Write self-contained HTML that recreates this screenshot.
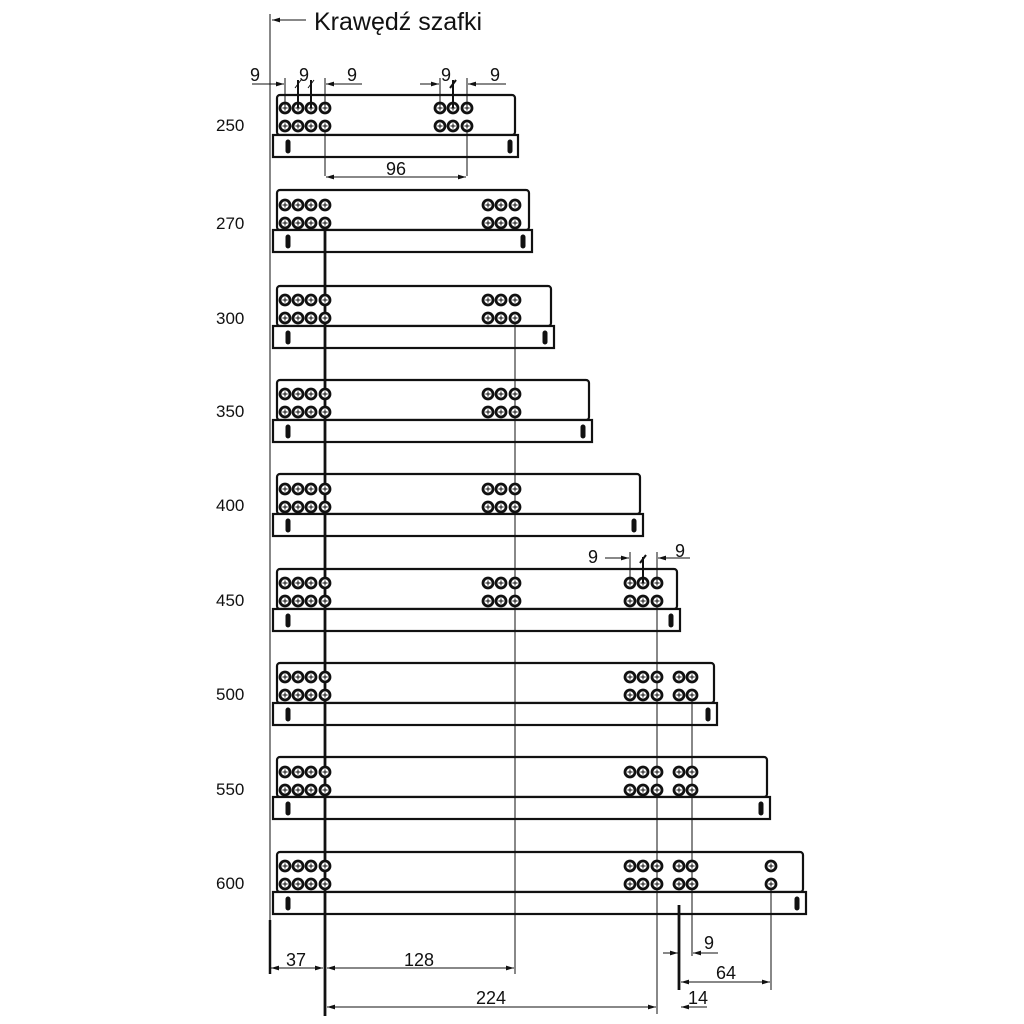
<!DOCTYPE html>
<html><head><meta charset="utf-8"><style>
html,body{margin:0;padding:0;background:#fff;}
svg{display:block;}
text{font-family:"Liberation Sans",sans-serif;fill:#111;}
</style></head><body>
<svg width="1024" height="1024" viewBox="0 0 1024 1024" xmlns="http://www.w3.org/2000/svg">
<defs>
<g id="h"><circle r="5" fill="#fff" stroke="#111" stroke-width="2.8"/><path d="M-2.5 0H2.5M0 -2.5V2.5" stroke="#111" stroke-width="1"/></g>
<g id="h4"><use href="#h" x="285"/><use href="#h" x="298"/><use href="#h" x="311"/><use href="#h" x="325"/></g>
<g id="hA"><use href="#h" x="488"/><use href="#h" x="501"/><use href="#h" x="515"/></g>
<g id="hB"><use href="#h" x="630"/><use href="#h" x="643"/><use href="#h" x="657"/></g>
<g id="hC"><use href="#h" x="679"/><use href="#h" x="692"/></g>
<marker id="a" viewBox="0 0 10 6" refX="10" refY="3" markerWidth="8" markerHeight="5" orient="auto-start-reverse"><path d="M0 0L10 3L0 6z" fill="#111"/></marker>
</defs>
<g fill="none" stroke="#111">
<line x1="270" y1="14" x2="270" y2="920" stroke-width="1"/>
<line x1="270" y1="920" x2="270" y2="974" stroke-width="2.5"/>
<line x1="272" y1="20" x2="306" y2="20" stroke-width="1" marker-start="url(#a)"/>
</g>
<text x="314" y="30" font-size="25">Krawędź szafki</text>

<g stroke="#111" fill="#fff">
<g transform="translate(0,95)"><rect x="277" y="0" width="238" height="40" rx="3" stroke-width="2.2"/><rect x="273" y="40" width="245" height="22" stroke-width="2.2"/><rect x="286" y="45" width="4" height="13" rx="2" fill="#111"/><rect x="508" y="45" width="4" height="13" rx="2" fill="#111"/></g>
<g transform="translate(0,190)"><rect x="277" y="0" width="252" height="40" rx="3" stroke-width="2.2"/><rect x="273" y="40" width="259" height="22" stroke-width="2.2"/><rect x="286" y="45" width="4" height="13" rx="2" fill="#111"/><rect x="521" y="45" width="4" height="13" rx="2" fill="#111"/></g>
<g transform="translate(0,286)"><rect x="277" y="0" width="274" height="40" rx="3" stroke-width="2.2"/><rect x="273" y="40" width="281" height="22" stroke-width="2.2"/><rect x="286" y="45" width="4" height="13" rx="2" fill="#111"/><rect x="543" y="45" width="4" height="13" rx="2" fill="#111"/></g>
<g transform="translate(0,380)"><rect x="277" y="0" width="312" height="40" rx="3" stroke-width="2.2"/><rect x="273" y="40" width="319" height="22" stroke-width="2.2"/><rect x="286" y="45" width="4" height="13" rx="2" fill="#111"/><rect x="581" y="45" width="4" height="13" rx="2" fill="#111"/></g>
<g transform="translate(0,474)"><rect x="277" y="0" width="363" height="40" rx="3" stroke-width="2.2"/><rect x="273" y="40" width="370" height="22" stroke-width="2.2"/><rect x="286" y="45" width="4" height="13" rx="2" fill="#111"/><rect x="632" y="45" width="4" height="13" rx="2" fill="#111"/></g>
<g transform="translate(0,569)"><rect x="277" y="0" width="400" height="40" rx="3" stroke-width="2.2"/><rect x="273" y="40" width="407" height="22" stroke-width="2.2"/><rect x="286" y="45" width="4" height="13" rx="2" fill="#111"/><rect x="669" y="45" width="4" height="13" rx="2" fill="#111"/></g>
<g transform="translate(0,663)"><rect x="277" y="0" width="437" height="40" rx="3" stroke-width="2.2"/><rect x="273" y="40" width="444" height="22" stroke-width="2.2"/><rect x="286" y="45" width="4" height="13" rx="2" fill="#111"/><rect x="706" y="45" width="4" height="13" rx="2" fill="#111"/></g>
<g transform="translate(0,757)"><rect x="277" y="0" width="490" height="40" rx="3" stroke-width="2.2"/><rect x="273" y="40" width="497" height="22" stroke-width="2.2"/><rect x="286" y="45" width="4" height="13" rx="2" fill="#111"/><rect x="759" y="45" width="4" height="13" rx="2" fill="#111"/></g>
<g transform="translate(0,852)"><rect x="277" y="0" width="526" height="40" rx="3" stroke-width="2.2"/><rect x="273" y="40" width="533" height="22" stroke-width="2.2"/><rect x="286" y="45" width="4" height="13" rx="2" fill="#111"/><rect x="795" y="45" width="4" height="13" rx="2" fill="#111"/></g>
</g>

<g stroke="#111" fill="none">
<line x1="325" y1="223" x2="325" y2="1016" stroke-width="2.8"/>
<line x1="515" y1="318" x2="515" y2="974" stroke-width="1"/>
<line x1="325" y1="126" x2="325" y2="176" stroke-width="1"/>
<line x1="467" y1="126" x2="467" y2="176" stroke-width="1"/>
<line x1="657" y1="601" x2="657" y2="1014" stroke-width="1"/>
<line x1="692" y1="695" x2="692" y2="956" stroke-width="1"/>
<line x1="679" y1="905" x2="679" y2="990" stroke-width="2.8"/>
<line x1="771" y1="884" x2="771" y2="990" stroke-width="1"/>
</g>

<g transform="translate(0,108)"><use href="#h4"/><use href="#h" x="440"/><use href="#h" x="453"/><use href="#h" x="467"/></g>
<g transform="translate(0,126)"><use href="#h4"/><use href="#h" x="440"/><use href="#h" x="453"/><use href="#h" x="467"/></g>
<g transform="translate(0,205)"><use href="#h4"/><use href="#hA"/></g>
<g transform="translate(0,223)"><use href="#h4"/><use href="#hA"/></g>
<g transform="translate(0,300)"><use href="#h4"/><use href="#hA"/></g>
<g transform="translate(0,318)"><use href="#h4"/><use href="#hA"/></g>
<g transform="translate(0,394)"><use href="#h4"/><use href="#hA"/></g>
<g transform="translate(0,412)"><use href="#h4"/><use href="#hA"/></g>
<g transform="translate(0,489)"><use href="#h4"/><use href="#hA"/></g>
<g transform="translate(0,507)"><use href="#h4"/><use href="#hA"/></g>
<g transform="translate(0,583)"><use href="#h4"/><use href="#hA"/><use href="#hB"/></g>
<g transform="translate(0,601)"><use href="#h4"/><use href="#hA"/><use href="#hB"/></g>
<g transform="translate(0,677)"><use href="#h4"/><use href="#hB"/><use href="#hC"/></g>
<g transform="translate(0,695)"><use href="#h4"/><use href="#hB"/><use href="#hC"/></g>
<g transform="translate(0,772)"><use href="#h4"/><use href="#hB"/><use href="#hC"/></g>
<g transform="translate(0,790)"><use href="#h4"/><use href="#hB"/><use href="#hC"/></g>
<g transform="translate(0,866)"><use href="#h4"/><use href="#hB"/><use href="#hC"/><use href="#h" x="771"/></g>
<g transform="translate(0,884)"><use href="#h4"/><use href="#hB"/><use href="#hC"/><use href="#h" x="771"/></g>

<g stroke="#111" fill="none" stroke-width="1">
<line x1="252" y1="84" x2="284" y2="84" marker-end="url(#a)"/>
<line x1="285" y1="78" x2="285" y2="108"/>
<line x1="298" y1="80" x2="298" y2="108" stroke-width="2"/>
<line x1="311" y1="80" x2="311" y2="108" stroke-width="2"/>
<line x1="295" y1="88" x2="301" y2="80"/><line x1="308" y1="88" x2="314" y2="80"/>
<line x1="325" y1="78" x2="325" y2="108"/>
<line x1="362" y1="84" x2="326" y2="84" marker-end="url(#a)"/>
<line x1="420" y1="84" x2="439" y2="84" marker-end="url(#a)"/>
<line x1="440" y1="78" x2="440" y2="108"/>
<line x1="453" y1="80" x2="453" y2="108" stroke-width="2"/>
<line x1="450" y1="88" x2="456" y2="80" stroke-width="2"/>
<line x1="467" y1="78" x2="467" y2="108"/>
<line x1="506" y1="84" x2="468" y2="84" marker-end="url(#a)"/>
<line x1="326" y1="177" x2="466" y2="177" marker-start="url(#a)" marker-end="url(#a)"/>
<line x1="605" y1="558" x2="629" y2="558" marker-end="url(#a)"/>
<line x1="630" y1="552" x2="630" y2="583"/>
<line x1="643" y1="557" x2="643" y2="583" stroke-width="2"/>
<line x1="640" y1="563" x2="646" y2="555" stroke-width="2"/>
<line x1="657" y1="552" x2="657" y2="583"/>
<line x1="690" y1="558" x2="658" y2="558" marker-end="url(#a)"/>
<line x1="271" y1="968" x2="323" y2="968" marker-start="url(#a)" marker-end="url(#a)"/>
<line x1="327" y1="968" x2="514" y2="968" marker-start="url(#a)" marker-end="url(#a)"/>
<line x1="327" y1="1007" x2="656" y2="1007" marker-start="url(#a)"/>
<line x1="640" y1="1007" x2="656" y2="1007" marker-end="url(#a)"/>
<line x1="707" y1="1007" x2="681" y2="1007" marker-end="url(#a)"/>
<line x1="663" y1="953" x2="678" y2="953" marker-end="url(#a)"/>
<line x1="718" y1="953" x2="693" y2="953" marker-end="url(#a)"/>
<line x1="681" y1="982" x2="770" y2="982" marker-start="url(#a)" marker-end="url(#a)"/>
</g>

<g font-size="18">
<text x="250" y="81">9</text>
<text x="299" y="81">9</text>
<text x="347" y="81">9</text>
<text x="441" y="81">9</text>
<text x="490" y="81">9</text>
<text x="386" y="175">96</text>
<text x="588" y="563">9</text>
<text x="675" y="557">9</text>
<text x="286" y="966">37</text>
<text x="404" y="966">128</text>
<text x="476" y="1004">224</text>
<text x="704" y="949">9</text>
<text x="716" y="979">64</text>
<text x="688" y="1004">14</text>
<g font-size="17">
<text x="216" y="131">250</text>
<text x="216" y="229">270</text>
<text x="216" y="324">300</text>
<text x="216" y="417">350</text>
<text x="216" y="511">400</text>
<text x="216" y="606">450</text>
<text x="216" y="700">500</text>
<text x="216" y="795">550</text>
<text x="216" y="889">600</text>
</g>
</g>
</svg>
</body></html>
